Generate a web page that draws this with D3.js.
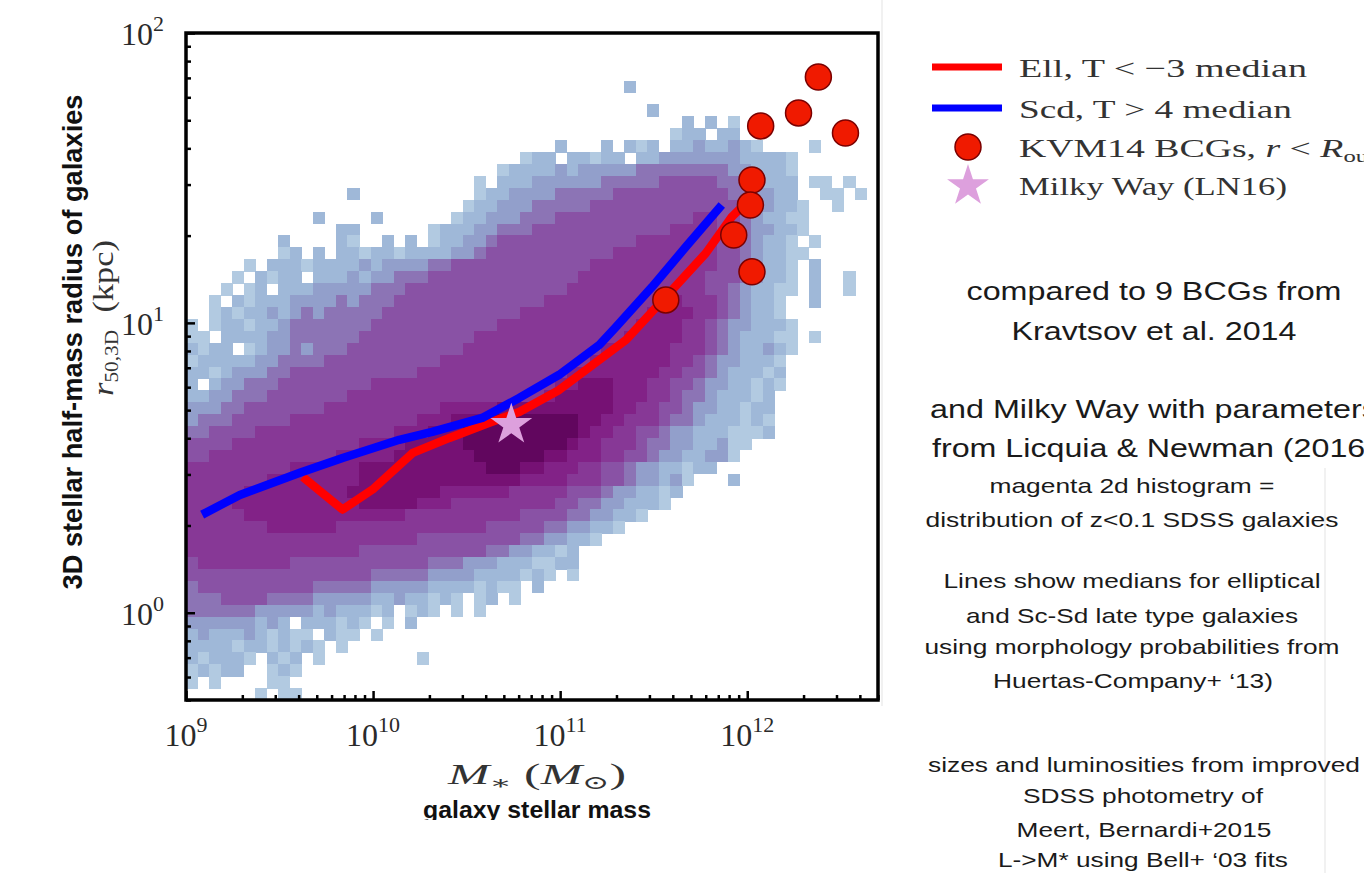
<!DOCTYPE html>
<html>
<head>
<meta charset="utf-8">
<script src="https://cdn.jsdelivr.net/npm/d3@7"></script>
<style>
  body { margin: 0; background: #fff; }
  svg { display: block; }
</style>
</head>
<body>
<svg id="chart" width="1364" height="873"></svg>
<script>
// ---- data ----

// 2d histogram of SDSS galaxies: one string per row of bins, top row first,
// each digit a density level (0 = empty, 9 = densest)
var histRows = [
  "0000000000 0000000000 0000000000 0000000000 0000000000 0000000000",
  "0000000000 0000000000 0000000000 0000000000 0000000000 0000000000",
  "0000000000 0000000000 0000000000 0000000000 0000000000 0000000000",
  "0000000000 0000000000 0000000000 0000000000 0000000000 0000000000",
  "0000000000 0000000000 0000000000 0000000020 0000000000 0000000000",
  "0000000000 0000000000 0000000000 0000000000 0000000000 0000000000",
  "0000000000 0000000000 0000000000 0000000000 2000000000 0000000000",
  "0000000000 0000000000 0000000000 0000000000 0002020100 0000000000",
  "0000000000 0000000000 0000000000 0000000000 0012202200 0000000000",
  "0000000000 0000000000 0000000000 0020002021 2022322321 0000100000",
  "0000000000 0000000000 0000000001 2202212202 2333333322 2210000000",
  "0000000000 0000000000 0000000122 2232333334 4444444332 2210000000",
  "0000000000 0000000000 0000010222 3333334444 4555554433 2220110100",
  "0000000000 0000200000 0000012233 3344444555 5555555443 3220011010",
  "0000000000 0000000000 0000122333 4444455555 5555555543 3221001000",
  "0000000000 0200002000 0001223334 4455555555 5555665543 2211000000",
  "0000000000 0002200000 0122233444 5555555555 5566665543 3221000000",
  "0000000020 0002100202 0122334555 5555555556 6666665543 2210100000",
  "0000000012 0202212212 2223345555 5555555666 6666665543 2211000000",
  "0000010222 1222232333 3445555555 5555566666 6666665543 2210200000",
  "0000102122 0222323344 4555555555 5555666666 6666655543 2210200100",
  "0001012022 2333334445 5555555555 5556666666 6666655432 2110200100",
  "0010212223 3334344455 5555555555 5666666666 6676665432 2100200000",
  "0012122323 4344444555 5555555556 6666666666 7777665432 2100000000",
  "1012212234 4444445555 5555555666 6666666667 7776654332 2210000000",
  "1102222334 4444455555 5555566666 6666666677 7776654322 2110100000",
  "2122012334 3444555555 5555666666 6666667777 7766654322 3210000000",
  "1222223344 4455555555 5566666666 6666677777 7766543322 2100000000",
  "2212333445 5555555555 6666666666 6667777777 7665543222 1200000000",
  "2023344455 5555556666 6666666666 6677888777 6655433221 2100000000",
  "2233444555 5555666666 6666666666 6788888777 6654432221 2000000000",
  "3334455555 5566666666 6677777888 8888888776 6554332212 2000000000",
  "3444555556 6666666666 7778889999 9999887766 6544322212 1000000000",
  "4455556666 6666666677 7888999999 9999877665 5433222111 2000000000",
  "5555666666 6666677778 8888999999 9998776665 4433223110 0000000000",
  "5566666666 6667777788 8888899999 9887776655 4332233100 0000000000",
  "6666666667 7777788888 8888889998 8777665543 3221220000 0000000000",
  "6666666777 7777788888 8888888887 7776665543 3231000200 0000000000",
  "6666677777 7777888888 8877777766 6665554332 2120000000 0000000000",
  "6666777777 7777788888 7776666666 6655443322 2100000000 0000000000",
  "6666677777 7777777776 6666666665 5554433221 0000000000 0000000000",
  "6666666777 7776666666 6666665555 5443322100 0000000000 0000000000",
  "6666666666 6666666666 5555555554 4332210000 0000000000 0000000000",
  "6666666666 6666655555 5555554433 2212000000 0000000000 0000000000",
  "5666666665 5555555555 5444333222 1122000000 0000000000 0000000000",
  "5555555555 5555554444 4333322221 2101000000 0000000000 0000000000",
  "4555555555 5444443333 3222212110 2000000000 0000000000 0000000000",
  "4445555444 4333332232 2121012010 0000000000 0000000000 0000000000",
  "4444443333 3232221201 2101010000 0000000000 0000000000 0000000000",
  "3333332320 2221210102 0000000000 0000000000 0000000000 0000000000",
  "2322232121 1021101000 0000000000 0000000000 0000000000 0000000000",
  "2222122121 2101000000 0000000000 0000000000 0000000000 0000000000",
  "2122210212 0100000000 1000000000 0000000000 0000000000 0000000000",
  "1212200121 0000000000 0000000000 0000000000 0000000000 0000000000",
  "1010000110 0000000000 0000000000 0000000000 0000000000 0000000000",
  "0000001011 0000000000 0000000000 0000000000 0000000000 0000000000"
];

// bin range of the histogram (Msun, kpc)
var histMassRange = [1e9, 5e12];
var histRadiusRange = [0.5, 100];

// Ell, T < -3 median
var ellMass = [4.21e9, 6.87e9, 9.93e9, 1.63e10, 2.56e10, 4.18e10, 6.04e10, 9.88e10, 1.62e11, 2.25e11, 3.67e11, 6.01e11, 8.26e11, 1.05e12];
var ellRadius = [2.94, 2.27, 2.66, 3.56, 4.01, 4.52, 4.93, 5.87, 7.45, 8.74, 12.3, 17.4, 23.2, 27.0];

// Scd, T > 4 median
var scdMass = [1.22e9, 1.94e9, 4.06e9, 6.87e9, 1.38e10, 2.07e10, 3.83e10, 6.04e10, 9.88e10, 1.62e11, 1.99e11, 3.10e11, 4.70e11, 7.31e11];
var scdRadius = [2.18, 2.55, 3.04, 3.42, 3.95, 4.21, 4.70, 5.51, 6.62, 8.40, 9.69, 13.3, 18.3, 25.5];

// KVM14 BCGs
var bcgMass = [2.40e12, 1.88e12, 1.18e12, 3.35e12, 1.06e12, 1.04e12, 8.47e11, 1.06e12, 3.67e11];
var bcgRadius = [70.5, 53.0, 47.8, 45.2, 31.1, 25.5, 20.1, 15.0, 12.0];

// Milky Way (LN16)
var mwMass = [5.48e10];
var mwRadius = [4.45];

// ticks
var xMajorTicks = [1e9, 1e10, 1e11, 1e12];
var xMajorExp = ["9", "10", "11", "12"];
var yMajorTicks = [1, 10, 100];
var yMajorExp = ["0", "1", "2"];

// text
var legendLabels = ["Ell,  T < \u22123 median", "Scd, T >  4 median", "KVM14 BCGs, ", "Milky Way (LN16)"];
var noteLines = [
  "compared to 9 BCGs from",
  "Kravtsov et al. 2014",
  "and Milky Way with parameters",
  "from Licquia & Newman (2016)",
  "magenta 2d histogram =",
  "distribution of z<0.1 SDSS galaxies",
  "Lines show medians for elliptical",
  "and Sc-Sd late type galaxies",
  "using morphology probabilities from",
  "Huertas-Company+ \u201813)",
  "sizes and luminosities from improved",
  "SDSS photometry of",
  "Meert, Bernardi+2015",
  "L->M* using Bell+ \u201803 fits"
];

// ---- drawing ----
var svg = d3.select("#chart");
var serif = "'Liberation Serif', 'DejaVu Serif', serif";
var sans = "'Liberation Sans', Arial, sans-serif";

var plotBox = {left: 186, right: 878, top: 33, bottom: 700};

var xScale = d3.scaleLog()
  .domain(histMassRange)
  .range([plotBox.left, plotBox.right]);

var yScale = d3.scaleLog()
  .domain(histRadiusRange)
  .range([plotBox.bottom, plotBox.top]);

// faint edges of the pasted panels
svg.append("line").attr("x1", 882).attr("x2", 882).attr("y1", 0).attr("y2", 706)
  .attr("stroke", "#ececec").attr("stroke-width", 1.5);
svg.append("line").attr("x1", 1325).attr("x2", 1325).attr("y1", 468).attr("y2", 873)
  .attr("stroke", "#ececec").attr("stroke-width", 1.5);

svg.append("clipPath").attr("id", "plot-clip")
  .append("rect")
  .attr("x", plotBox.left).attr("y", plotBox.top)
  .attr("width", plotBox.right - plotBox.left)
  .attr("height", plotBox.bottom - plotBox.top);

var plot = svg.append("g").attr("clip-path", "url(#plot-clip)");

// histogram cells
var rows = histRows.map(function (s) { return s.replace(/ /g, ""); });
var nRows = rows.length;
var nCols = rows[0].length;
var lm0 = Math.log10(histMassRange[0]), lm1 = Math.log10(histMassRange[1]);
var lr0 = Math.log10(histRadiusRange[0]), lr1 = Math.log10(histRadiusRange[1]);
var dM = (lm1 - lm0) / nCols;
var dR = (lr1 - lr0) / nRows;

var cells = [];
rows.forEach(function (row, r) {
  for (var c = 0; c < row.length; c++) {
    var lvl = +row[c];
    if (lvl > 0) cells.push({r: r, c: c, lvl: lvl});
  }
});

// position of each level along the BuPu colormap
var levelT = [0, 0.30, 0.38, 0.47, 0.60, 0.70, 0.77, 0.83, 0.89, 0.95];
var levelColor = function (lvl) {
  return d3.interpolateBuPu(levelT[lvl]);
};

plot.append("g")
  .attr("shape-rendering", "crispEdges")
  .selectAll("rect")
  .data(cells)
  .join("rect")
  .attr("x", function (d) { return xScale(Math.pow(10, lm0 + d.c * dM)); })
  .attr("y", function (d) { return yScale(Math.pow(10, lr1 - d.r * dR)); })
  .attr("width", function (d) {
    return xScale(Math.pow(10, lm0 + (d.c + 1) * dM)) - xScale(Math.pow(10, lm0 + d.c * dM)) + 0.6;
  })
  .attr("height", function (d) {
    return yScale(Math.pow(10, lr1 - (d.r + 1) * dR)) - yScale(Math.pow(10, lr1 - d.r * dR)) + 0.6;
  })
  .attr("fill", function (d) { return levelColor(d.lvl); });

// median lines
var medianLine = d3.line()
  .x(function (d) { return xScale(d[0]); })
  .y(function (d) { return yScale(d[1]); });

plot.append("path")
  .attr("d", medianLine(d3.zip(ellMass, ellRadius)))
  .attr("fill", "none")
  .attr("stroke", "#ff0000")
  .attr("stroke-width", 8.5)
  .attr("stroke-linejoin", "round");

plot.append("path")
  .attr("d", medianLine(d3.zip(scdMass, scdRadius)))
  .attr("fill", "none")
  .attr("stroke", "#0000ff")
  .attr("stroke-width", 8.5)
  .attr("stroke-linejoin", "round");

// BCGs
plot.append("g")
  .selectAll("circle")
  .data(d3.zip(bcgMass, bcgRadius))
  .join("circle")
  .attr("cx", function (d) { return xScale(d[0]); })
  .attr("cy", function (d) { return yScale(d[1]); })
  .attr("r", 13)
  .attr("fill", "#f01a00")
  .attr("stroke", "#7a0000")
  .attr("stroke-width", 1.5);

// Milky Way star
var starPath = d3.symbol().type(d3.symbolStar).size(22 * 22 / 0.8908130915292852);
plot.append("g")
  .selectAll("path")
  .data(d3.zip(mwMass, mwRadius))
  .join("path")
  .attr("d", starPath)
  .attr("transform", function (d) { return "translate(" + xScale(d[0]) + "," + yScale(d[1]) + ")"; })
  .attr("fill", "#dda0dd");

// frame
svg.append("rect")
  .attr("x", plotBox.left).attr("y", plotBox.top)
  .attr("width", plotBox.right - plotBox.left)
  .attr("height", plotBox.bottom - plotBox.top)
  .attr("fill", "none")
  .attr("stroke", "#000")
  .attr("stroke-width", 3.5);

// ticks (inward)
var isMajor = function (v) { return Math.abs(Math.log10(v) - Math.round(Math.log10(v))) < 1e-9; };
var xMinor = xScale.ticks().filter(function (v) { return !isMajor(v); });
var yMinor = yScale.ticks().filter(function (v) { return !isMajor(v); });

function styleAxis(g) {
  g.select(".domain").remove();
  g.selectAll(".tick line").attr("stroke", "#000").attr("stroke-width", 2.5);
  g.selectAll(".tick text").remove();
}

svg.append("g").attr("transform", "translate(0," + plotBox.bottom + ")")
  .call(d3.axisBottom(xScale).tickValues(xMajorTicks).tickSize(-9).tickFormat(""))
  .call(styleAxis);
svg.append("g").attr("transform", "translate(0," + plotBox.bottom + ")")
  .call(d3.axisBottom(xScale).tickValues(xMinor).tickSize(-5).tickFormat(""))
  .call(styleAxis);
svg.append("g").attr("transform", "translate(" + plotBox.left + ",0)")
  .call(d3.axisLeft(yScale).tickValues(yMajorTicks).tickSize(-9).tickFormat(""))
  .call(styleAxis);
svg.append("g").attr("transform", "translate(" + plotBox.left + ",0)")
  .call(d3.axisLeft(yScale).tickValues(yMinor).tickSize(-5).tickFormat(""))
  .call(styleAxis);

// tick labels 10^n
xMajorTicks.forEach(function (v, i) {
  var t = svg.append("text")
    .attr("x", xScale(v)).attr("y", 746)
    .attr("text-anchor", "middle")
    .style("font-family", serif).style("font-size", "32px").style("fill", "#2a2a2a");
  t.append("tspan").text("10");
  t.append("tspan").attr("dy", -14).style("font-size", "22px").text(xMajorExp[i]);
});
yMajorTicks.forEach(function (v, i) {
  var t = svg.append("text")
    .attr("x", 164).attr("y", yScale(v) + 12)
    .attr("text-anchor", "end")
    .style("font-family", serif).style("font-size", "32px").style("fill", "#2a2a2a");
  t.append("tspan").text("10");
  t.append("tspan").attr("dy", -14).style("font-size", "22px").text(yMajorExp[i]);
});

// axis titles
var xTitle = svg.append("text")
  .attr("x", 537).attr("y", 784)
  .attr("text-anchor", "middle")
  .attr("textLength", 178).attr("lengthAdjust", "spacingAndGlyphs")
  .style("font-family", serif).style("font-size", "29px").style("fill", "#333");
xTitle.append("tspan").style("font-style", "italic").text("M");
xTitle.append("tspan").attr("dy", 5).style("font-size", "19px").text("\u2217");
xTitle.append("tspan").attr("dy", -5).text(" (");
xTitle.append("tspan").style("font-style", "italic").text("M");
xTitle.append("tspan").attr("dy", 5).style("font-size", "19px").text("\u2299");
xTitle.append("tspan").attr("dy", -5).text(")");

svg.append("clipPath").attr("id", "cut-clip")
  .append("rect").attr("x", 0).attr("y", 0).attr("width", 1364).attr("height", 820);

svg.append("text")
  .attr("clip-path", "url(#cut-clip)")
  .attr("x", 537).attr("y", 818)
  .attr("text-anchor", "middle")
  .attr("textLength", 228).attr("lengthAdjust", "spacingAndGlyphs")
  .style("font-family", sans).style("font-weight", "bold").style("font-size", "24px").style("fill", "#111")
  .text("galaxy stellar mass");

var yTitle = svg.append("text")
  .attr("transform", "translate(113,318) rotate(-90)")
  .attr("text-anchor", "middle")
  .attr("textLength", 156).attr("lengthAdjust", "spacingAndGlyphs")
  .style("font-family", serif).style("font-size", "29px").style("fill", "#333");
yTitle.append("tspan").style("font-style", "italic").text("r");
yTitle.append("tspan").attr("dy", 5).style("font-size", "18px").text("50,3D");
yTitle.append("tspan").attr("dy", -5).text("\u2002(kpc)");

svg.append("text")
  .attr("transform", "translate(82,342) rotate(-90)")
  .attr("text-anchor", "middle")
  .attr("textLength", 495).attr("lengthAdjust", "spacingAndGlyphs")
  .style("font-family", sans).style("font-weight", "bold").style("font-size", "27px").style("fill", "#111")
  .text("3D stellar half-mass radius of galaxies");

// legend
var legend = svg.append("g");
legend.append("line").attr("x1", 932).attr("x2", 1002).attr("y1", 67).attr("y2", 67)
  .attr("stroke", "#ff0000").attr("stroke-width", 7);
legend.append("line").attr("x1", 932).attr("x2", 1002).attr("y1", 108).attr("y2", 108)
  .attr("stroke", "#0000ff").attr("stroke-width", 7);
legend.append("circle").attr("cx", 968).attr("cy", 147).attr("r", 13)
  .attr("fill", "#f01a00").attr("stroke", "#7a0000").attr("stroke-width", 1.5);
legend.append("path").attr("d", starPath).attr("transform", "translate(968,186)")
  .attr("fill", "#dda0dd");

var legendY = [77, 118, 157, 195];
var legendW = [288, 273, 356, 268];
legendLabels.forEach(function (s, i) {
  var t = legend.append("text")
    .attr("x", 1019).attr("y", legendY[i])
    .attr("textLength", legendW[i]).attr("lengthAdjust", "spacingAndGlyphs")
    .style("font-family", serif).style("font-size", "26px").style("fill", "#333");
  t.append("tspan").text(s);
  if (i === 2) {
    t.append("tspan").style("font-style", "italic").text("r");
    t.append("tspan").text(" < ");
    t.append("tspan").style("font-style", "italic").text("R");
    t.append("tspan").attr("dy", 5).style("font-size", "17px").text("out");
  }
});

// notes on the right
var noteLayout = [
  {x: 1154, y: 300, w: 375, s: 26},
  {x: 1154, y: 340, w: 285, s: 26},
  {x: 1154, y: 418, w: 448, s: 26},
  {x: 1154, y: 457, w: 444, s: 26},
  {x: 1132, y: 493, w: 285, s: 21},
  {x: 1132, y: 527, w: 413, s: 21},
  {x: 1132, y: 588, w: 377, s: 21},
  {x: 1132, y: 623, w: 332, s: 21},
  {x: 1132, y: 654, w: 415, s: 21},
  {x: 1133, y: 688, w: 280, s: 21},
  {x: 1144, y: 772, w: 432, s: 21},
  {x: 1143, y: 803, w: 240, s: 21},
  {x: 1144, y: 837, w: 255, s: 21},
  {x: 1143, y: 867, w: 290, s: 21}
];
noteLines.forEach(function (s, i) {
  var L = noteLayout[i];
  svg.append("text")
    .attr("x", L.x).attr("y", L.y)
    .attr("text-anchor", "middle")
    .attr("textLength", L.w).attr("lengthAdjust", "spacingAndGlyphs")
    .style("font-family", sans).style("font-size", L.s + "px").style("fill", "#1a1a1a")
    .text(s);
});
</script>
</body>
</html>
